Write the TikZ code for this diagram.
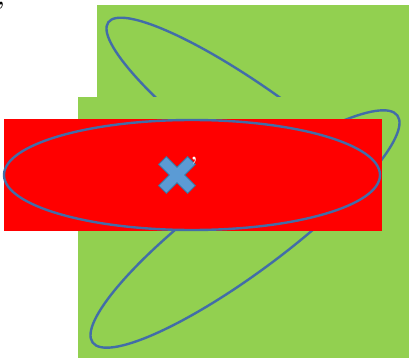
\documentclass[tikz,border=0pt]{standalone}
\usepackage{xcolor}
\usepackage{tikz}
\usetikzlibrary{positioning}
\definecolor{mygreen}{RGB}{146,208,80}
\definecolor{myred}{RGB}{255,0,0}
\definecolor{myline}{RGB}{66,109,168}
\definecolor{crossfill}{RGB}{91,155,213}
\definecolor{crossedge}{RGB}{65,113,156}
\tikzset{
  ring/.style={draw=myline, line width=2.4pt},
  crossmark/.style={fill=crossfill, draw=crossedge, line width=1pt, line join=miter},
  quote/.style={inner sep=0pt, font=\huge\bfseries}
}

\begin{document}
\begin{tikzpicture}[x=1pt, y=-1pt]
    \useasboundingbox (0,0) rectangle (409,358);

    % Upper green block and the ring behind the lower one
    \fill[color=mygreen] (97,5) rectangle (409,120);
    \draw[ring, rotate around={-36:(262,134)}] (262,134) ellipse [x radius=190pt, y radius=40pt];

    % Lower green block and the rising ring
    \fill[color=mygreen] (78,97) rectangle (409,358);
    \draw[ring, rotate around={36.7:(245,229)}] (245,229) ellipse [x radius=190pt, y radius=43pt];

    % Red band with the flat ring
    \fill[color=myred] (4,119) rectangle (382,231);
    \draw[ring] (192,175) ellipse [x radius=188pt, y radius=55pt];

    % Cross in the middle
    \draw[crossmark, shift={(177,175)}, rotate=45]
      (5.5,20.5) -- (5.5,5.5) -- (20.5,5.5) -- (20.5,-5.5) -- (5.5,-5.5) -- (5.5,-20.5)
      -- (-5.5,-20.5) -- (-5.5,-5.5) -- (-20.5,-5.5) -- (-20.5,5.5) -- (-5.5,5.5) -- (-5.5,20.5) -- cycle;

    % Stray marks
    \node[quote, color=white] (tick) at (194,164) {\textquoteright};
    \node[quote, color=black] (corner) at (1,9) {\textquoteright};
  \end{tikzpicture}
\end{document}
